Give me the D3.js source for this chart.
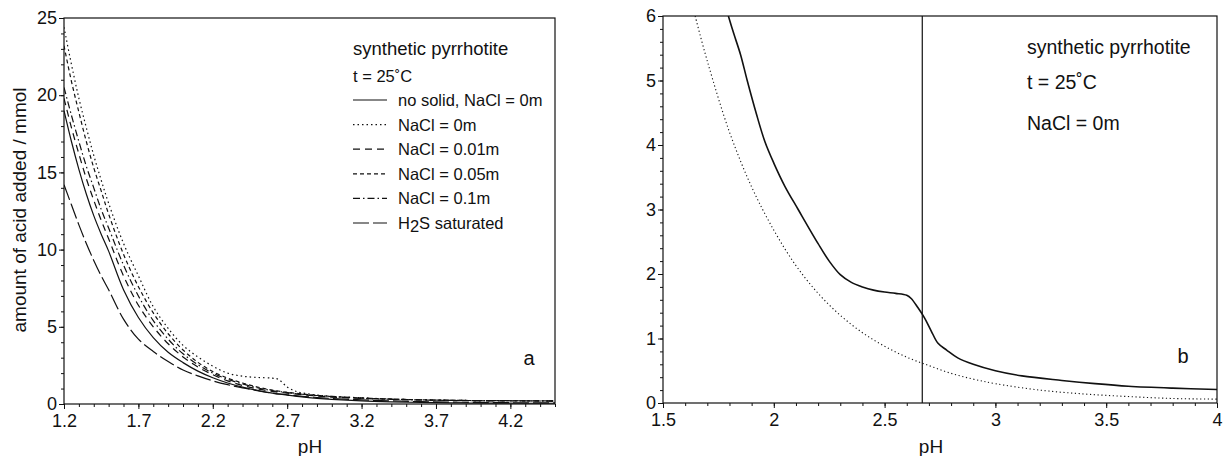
<!DOCTYPE html>
<html>
<head>
<meta charset="utf-8">
<script src="https://cdn.jsdelivr.net/npm/d3@7"></script>
<style>
  body { margin: 0; background: #fff; }
  text { font-family: "Liberation Sans", Arial, sans-serif; fill: #111; }
</style>
</head>
<body>
<svg width="1225" height="456"></svg>
<script>
// data, panel a
var phA = [1.2, 1.25, 1.3, 1.35, 1.4, 1.45, 1.5, 1.6, 1.7, 1.8, 1.9, 2.0, 2.1, 2.2, 2.3,
  2.4, 2.5, 2.6, 2.7, 2.8, 2.9, 3.0, 3.2, 3.4, 3.6, 3.8, 4.0, 4.25, 4.5];
var noSolid = [19.0, 17.0, 15.2, 13.6, 12.2, 11.0, 9.9, 7.4, 5.6, 4.3, 3.35, 2.68, 2.13, 1.70, 1.36,
  1.09, 0.88, 0.71, 0.58, 0.46, 0.37, 0.30, 0.20, 0.14, 0.10, 0.07, 0.06, 0.05, 0.05];
var nacl001 = [19.8, 17.9, 16.2, 14.6, 13.2, 11.9, 10.7, 8.3, 6.4, 5.0, 3.9, 3.05, 2.4, 1.9, 1.5,
  1.2, 0.98, 0.82, 0.7, 0.6, 0.52, 0.45, 0.36, 0.3, 0.26, 0.23, 0.21, 0.2, 0.19];
var nacl005 = [23.2, 20.9, 18.9, 17.0, 15.3, 13.8, 12.3, 9.7, 7.6, 5.9, 4.55, 3.5, 2.7, 2.1, 1.68,
  1.36, 1.1, 0.9, 0.76, 0.65, 0.56, 0.49, 0.39, 0.32, 0.27, 0.24, 0.22, 0.21, 0.2];
var nacl01 = [20.5, 18.7, 17.0, 15.4, 14.0, 12.6, 11.4, 9.0, 7.0, 5.4, 4.2, 3.25, 2.55, 2.0, 1.6,
  1.3, 1.05, 0.87, 0.74, 0.63, 0.55, 0.48, 0.38, 0.31, 0.27, 0.24, 0.22, 0.21, 0.2];
var h2sSat = [14.2, 12.9, 11.6, 10.4, 9.3, 8.3, 7.4, 5.5, 4.2, 3.4, 2.75, 2.2, 1.82, 1.5, 1.25,
  1.05, 0.86, 0.70, 0.6, 0.5, 0.42, 0.36, 0.27, 0.2, 0.15, 0.12, 0.1, 0.08, 0.07];
var phA0 = [1.2, 1.25, 1.3, 1.35, 1.4, 1.45, 1.5, 1.6, 1.7, 1.8, 1.9, 2.0, 2.1, 2.2, 2.3, 2.4,
  2.5, 2.6, 2.64, 2.7, 2.75, 2.8, 2.9, 3.0, 3.2, 3.4, 3.6, 3.8, 4.0, 4.5];
var nacl0 = [24.4, 22.0, 19.8, 17.9, 16.1, 14.5, 13.0, 10.4, 8.3, 6.3, 4.9, 3.8, 3.05, 2.45, 2.0, 1.8,
  1.72, 1.67, 1.6, 1.1, 0.85, 0.72, 0.58, 0.5, 0.4, 0.32, 0.27, 0.24, 0.22, 0.2];

// data, panel b
var phB1 = [1.795, 1.82, 1.85, 1.88, 1.92, 1.96, 2.0, 2.05, 2.11, 2.2, 2.25, 2.3, 2.35, 2.4, 2.45,
  2.5, 2.55, 2.6, 2.62, 2.65, 2.68, 2.71, 2.74, 2.78, 2.83, 2.9, 3.0, 3.12, 3.3, 3.45, 3.6, 3.8, 4.0];
var withSolid = [6.0, 5.72, 5.4, 5.0, 4.5, 4.05, 3.72, 3.36, 3.0, 2.47, 2.2, 1.99, 1.87, 1.8, 1.75,
  1.72, 1.70, 1.67, 1.62, 1.48, 1.32, 1.12, 0.93, 0.82, 0.7, 0.6, 0.5, 0.42, 0.35, 0.3, 0.26, 0.23, 0.21];
var phB2 = [1.645, 1.7, 1.8, 1.9, 2.0, 2.1, 2.2, 2.3, 2.4, 2.5, 2.6, 2.7, 2.8, 2.9, 3.0, 3.2,
  3.4, 3.6, 3.8, 4.0];
var withoutSolid = [6.0, 5.3, 4.2, 3.35, 2.68, 2.13, 1.70, 1.36, 1.09, 0.88, 0.71, 0.58, 0.46, 0.37,
  0.30, 0.20, 0.14, 0.10, 0.07, 0.06];
var markerPH = 2.67;

var ticksA = [1.2, 1.7, 2.2, 2.7, 3.2, 3.7, 4.2];
var ticksB = [1.5, 2, 2.5, 3, 3.5, 4];

var svg = d3.select("svg");

function zip(xs, ys) {
  return xs.map(function(x, i) { return [x, ys[i]]; });
}

function frame(id, x, y, xMajor, xMinor, yMajor, yMinor, xFmt) {
  var g = svg.append("g");
  g.append("clipPath").attr("id", id)
    .append("rect")
    .attr("x", x.range()[0]).attr("y", y.range()[1])
    .attr("width", x.range()[1] - x.range()[0])
    .attr("height", y.range()[0] - y.range()[1]);

  var bottom = y.range()[0];
  var left = x.range()[0];

  g.append("g").attr("transform", "translate(0," + bottom + ")")
    .call(d3.axisBottom(x).tickValues(xMinor).tickSize(3).tickFormat(""));
  g.append("g").attr("transform", "translate(0," + bottom + ")")
    .call(d3.axisBottom(x).tickValues(xMajor).tickSize(5).tickPadding(5).tickFormat(xFmt))
    .attr("font-size", 18);
  g.append("g").attr("transform", "translate(" + left + ",0)")
    .call(d3.axisLeft(y).tickValues(yMinor).tickSize(3).tickFormat(""));
  g.append("g").attr("transform", "translate(" + left + ",0)")
    .call(d3.axisLeft(y).tickValues(yMajor).tickSize(5).tickPadding(2).tickFormat(d3.format("d")))
    .attr("font-size", 18);

  g.selectAll(".domain").remove();
  g.selectAll(".tick line").attr("stroke", "#111");
  g.selectAll(".tick text").attr("fill", "#111").attr("font-family", "Liberation Sans, Arial, sans-serif");

  g.append("rect")
    .attr("x", left).attr("y", y.range()[1])
    .attr("width", x.range()[1] - left)
    .attr("height", bottom - y.range()[1])
    .attr("fill", "none").attr("stroke", "#111").attr("stroke-width", 1.2);
  return g;
}

function curve(id, x, y, pts, dash, w) {
  var line = d3.line()
    .x(function(d) { return x(d[0]); })
    .y(function(d) { return y(d[1]); })
    .curve(d3.curveCatmullRom.alpha(0.5));
  svg.append("path")
    .datum(pts)
    .attr("clip-path", "url(#" + id + ")")
    .attr("fill", "none")
    .attr("stroke", "#111")
    .attr("stroke-width", w)
    .attr("stroke-dasharray", dash)
    .attr("d", line);
}

// panel a
var xA = d3.scaleLinear().domain([1.2, 4.5]).range([64, 555]);
var yA = d3.scaleLinear().domain([0, 25]).range([404, 18]);
frame("clipA", xA, yA, ticksA, d3.range(12, 46).map(function(d) { return d / 10; }),
  d3.range(0, 26, 5), d3.range(0, 26), d3.format(".1f"));

var seriesA = [
  { name: "no solid, NaCl = 0m", ph: phA, v: noSolid, dash: null },
  { name: "NaCl = 0m", ph: phA0, v: nacl0, dash: "1.5,3" },
  { name: "NaCl = 0.01m", ph: phA, v: nacl001, dash: "7,5" },
  { name: "NaCl = 0.05m", ph: phA, v: nacl005, dash: "4,3" },
  { name: "NaCl = 0.1m", ph: phA, v: nacl01, dash: "7,3,1.5,3" },
  { name: "H2S saturated", ph: phA, v: h2sSat, dash: "16,4" }
];
seriesA.forEach(function(s) {
  curve("clipA", xA, yA, zip(s.ph, s.v), s.dash, 1.2);
});

// legend, panel a
svg.append("text").attr("x", 353).attr("y", 55).attr("font-size", 18.5).text("synthetic pyrrhotite");
svg.append("text").attr("x", 353).attr("y", 82).attr("font-size", 16.5).text("t = 25\u02daC");
var lg = svg.append("g");
seriesA.forEach(function(s, i) {
  var yy = 100 + i * 24.6;
  lg.append("line")
    .attr("x1", 353).attr("x2", 387).attr("y1", yy).attr("y2", yy)
    .attr("stroke", "#111").attr("stroke-width", 1.2)
    .attr("stroke-dasharray", s.dash);
  var t = lg.append("text").attr("x", 398).attr("y", yy + 6).attr("font-size", 16.5);
  if (s.name.indexOf("H2S") === 0) {
    t.append("tspan").text("H");
    t.append("tspan").attr("dy", 3).text("2");
    t.append("tspan").attr("dy", -3).text("S saturated");
  } else {
    t.text(s.name);
  }
});
svg.append("text").attr("x", 529).attr("y", 365).attr("font-size", 20).attr("text-anchor", "middle").text("a");

svg.append("text").attr("x", 310).attr("y", 453).attr("font-size", 19).attr("text-anchor", "middle").text("pH");
svg.append("text")
  .attr("transform", "translate(26,210) rotate(-90)")
  .attr("font-size", 19).attr("text-anchor", "middle")
  .text("amount of acid added / mmol");

// panel b
var xB = d3.scaleLinear().domain([1.5, 4]).range([663, 1217]);
var yB = d3.scaleLinear().domain([0, 6]).range([403, 16]);
frame("clipB", xB, yB, ticksB, d3.range(15, 41).map(function(d) { return d / 10; }),
  d3.range(0, 7), d3.range(0, 31).map(function(d) { return d / 5; }), d3.format("~g"));

curve("clipB", xB, yB, zip(phB2, withoutSolid), "1.2,2.6", 1.1);
curve("clipB", xB, yB, zip(phB1, withSolid), null, 1.6);
svg.append("line")
  .attr("x1", xB(markerPH)).attr("x2", xB(markerPH))
  .attr("y1", yB(0)).attr("y2", yB(6))
  .attr("stroke", "#111").attr("stroke-width", 1.2);

svg.append("text").attr("x", 1027).attr("y", 54).attr("font-size", 19.5).text("synthetic pyrrhotite");
svg.append("text").attr("x", 1027).attr("y", 89).attr("font-size", 19.5).text("t = 25\u02daC");
svg.append("text").attr("x", 1027).attr("y", 130).attr("font-size", 19.5).text("NaCl = 0m");
svg.append("text").attr("x", 1183).attr("y", 363).attr("font-size", 20).attr("text-anchor", "middle").text("b");
svg.append("text").attr("x", 931).attr("y", 453).attr("font-size", 19).attr("text-anchor", "middle").text("pH");
</script>
</body>
</html>
